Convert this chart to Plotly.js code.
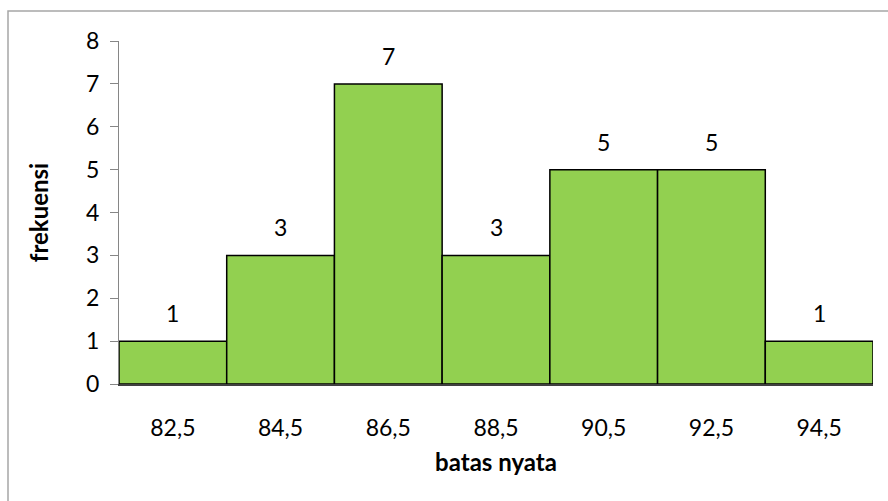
<!DOCTYPE html>
<html>
<head>
<meta charset="utf-8">
<script src="https://cdn.plot.ly/plotly-3.0.1.min.js"></script>
<style>html,body{margin:0;padding:0;background:#fff;}#chart{width:888px;height:501px;}</style>
</head>
<body>
<div id="chart"></div>
<script>
var categories = ["82,5", "84,5", "86,5", "88,5", "90,5", "92,5", "94,5"];
var frequencies = [1, 3, 7, 3, 5, 5, 1];
var yTicks = [0, 1, 2, 3, 4, 5, 6, 7, 8];

var W = 888, H = 501;
var m = {l: 119, r: 15, t: 41, b: 117};
var pw = W - m.l - m.r, ph = H - m.t - m.b;
function px(x) { return (x - m.l) / pw; }
function py(y) { return (H - m.b - y) / ph; }

var font = "Lato, 'Open Sans', sans-serif";

var trace = {
  type: "bar",
  x: categories,
  y: frequencies,
  marker: {color: "#92D050", line: {color: "#000000", width: 1.5}},
  hoverinfo: "skip"
};

var annotations = categories.map(function (c, i) {
  return {
    x: c, y: frequencies[i], xref: "x", yref: "y",
    text: String(frequencies[i]), showarrow: false,
    yanchor: "bottom", yshift: 12,
    font: {family: font, size: 23, color: "#000"}
  };
});

var layout = {
  width: W, height: H,
  margin: m,
  paper_bgcolor: "#fff", plot_bgcolor: "#fff",
  showlegend: false,
  bargap: 0,
  xaxis: {
    type: "category",
    showline: true, linecolor: "#404040", linewidth: 1.5,
    showgrid: false, zeroline: false,
    ticks: "", ticklabelstandoff: 23,
    tickfont: {family: font, size: 23, color: "#000"},
    title: {text: "<b>batas nyata</b>", font: {family: font, size: 24, color: "#000"}, standoff: 14}
  },
  yaxis: {
    range: [0, 8],
    tickvals: yTicks,
    showline: true, linecolor: "#868686", linewidth: 1,
    showgrid: false, zeroline: false,
    ticks: "outside", ticklen: 8, tickcolor: "#868686", tickwidth: 1,
    ticklabelstandoff: 6,
    tickfont: {family: font, size: 23, color: "#000"},
    title: {text: "<b>frekuensi</b>", font: {family: font, size: 24, color: "#000"}, standoff: 30}
  },
  annotations: annotations,
  shapes: [{
    type: "rect", xref: "paper", yref: "paper",
    x0: px(8), x1: px(920), y0: py(11), y1: py(540),
    line: {color: "#A6A6A6", width: 1.5}, fillcolor: "rgba(0,0,0,0)"
  }]
};

Plotly.newPlot("chart", [trace], layout, {displayModeBar: false, staticPlot: true});
</script>
</body>
</html>
